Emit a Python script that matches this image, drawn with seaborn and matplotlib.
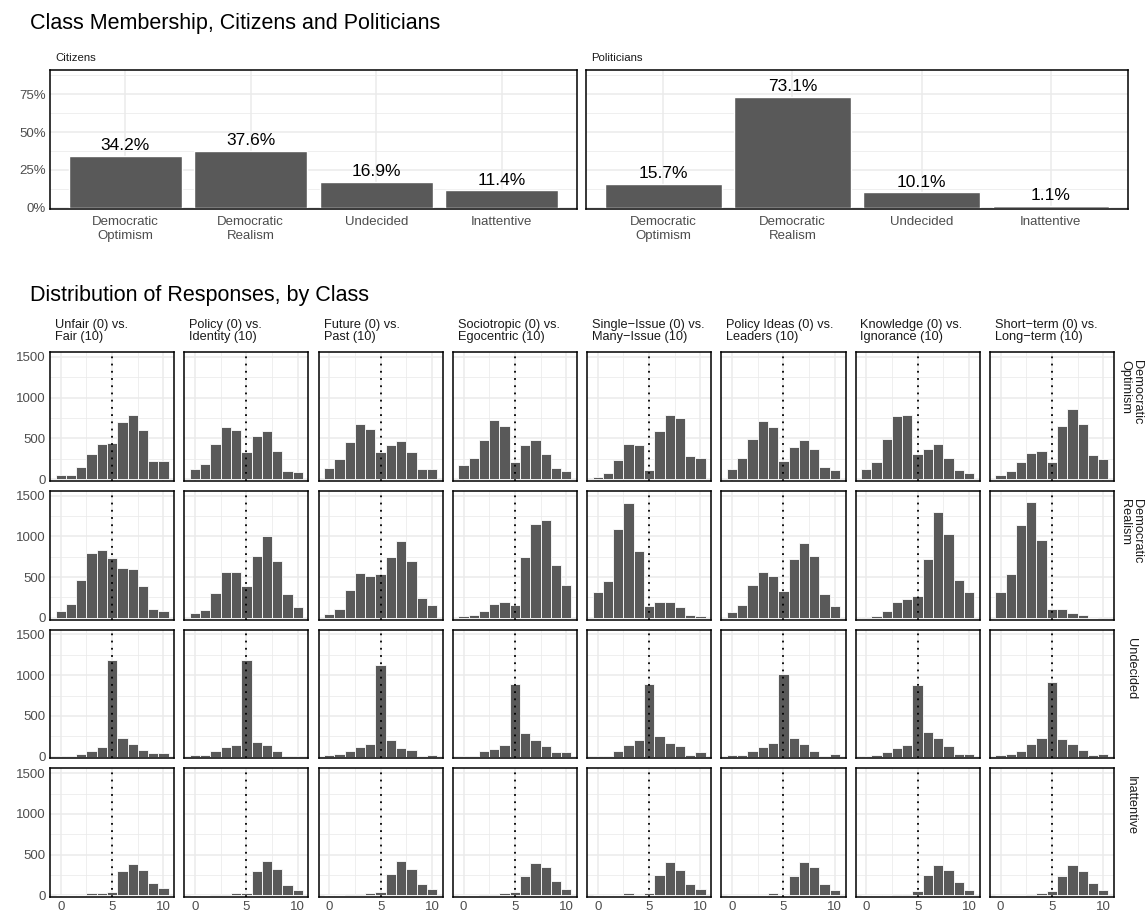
import matplotlib
matplotlib.use("Agg")
import matplotlib.pyplot as plt
import seaborn as sns
import pandas as pd
from matplotlib.ticker import FixedLocator, FuncFormatter

# ---------------------------------------------------------------- data
class_names = ["Democratic Optimism", "Democratic Realism", "Undecided", "Inattentive"]
class_ticklabels = ["Democratic\nOptimism", "Democratic\nRealism", "Undecided", "Inattentive"]
class_striplabels = ["Democratic\nOptimism", "Democratic\nRealism", "Undecided", "Inattentive"]

citizens_pct = [34.2, 37.6, 16.9, 11.4]
politicians_pct = [15.7, 73.1, 10.1, 1.1]

item_labels = [
    "Unfair (0) vs.\nFair (10)",
    "Policy (0) vs.\nIdentity (10)",
    "Future (0) vs.\nPast (10)",
    "Sociotropic (0) vs.\nEgocentric (10)",
    "Single\u2212Issue (0) vs.\nMany\u2212Issue (10)",
    "Policy Ideas (0) vs.\nLeaders (10)",
    "Knowledge (0) vs.\nIgnorance (10)",
    "Short\u2212term (0) vs.\nLong\u2212term (10)",
]
scale_points = list(range(11))

# response counts at scale points 0..10, one list per item
optimism_counts = [
    [50, 50, 154, 307, 425, 441, 697, 792, 603, 225, 225],
    [130, 189, 425, 638, 603, 331, 532, 591, 343, 98, 87],
    [142, 248, 461, 674, 615, 331, 414, 473, 331, 130, 130],
    [177, 260, 485, 721, 654, 213, 414, 485, 307, 142, 95],
    [24, 71, 236, 425, 414, 110, 595, 792, 745, 284, 264],
    [130, 260, 496, 709, 638, 217, 390, 485, 366, 154, 106],
    [130, 213, 496, 780, 788, 307, 366, 425, 260, 110, 71],
    [47, 95, 213, 319, 343, 213, 650, 863, 674, 296, 248],
]
realism_counts = [
    [85, 175, 460, 800, 835, 730, 615, 595, 395, 105, 85],
    [57, 94, 307, 558, 569, 396, 758, 1000, 696, 295, 131],
    [50, 105, 345, 550, 511, 535, 742, 938, 696, 246, 160],
    [20, 33, 90, 172, 197, 156, 742, 1158, 1204, 650, 406],
    [316, 451, 1096, 1404, 819, 143, 193, 193, 131, 37, 20],
    [70, 156, 405, 558, 519, 328, 719, 915, 765, 287, 143],
    [8, 20, 82, 193, 230, 271, 727, 1296, 1031, 469, 316],
    [316, 538, 1135, 1423, 950, 107, 107, 57, 33, 2, 8],
]
undecided_counts = [
    [12, 12, 28, 63, 122, 1190, 225, 158, 87, 39, 39],
    [24, 24, 63, 122, 146, 1190, 181, 138, 75, 12, 12],
    [24, 35, 63, 122, 158, 1120, 201, 106, 87, 12, 24],
    [12, 12, 63, 98, 146, 890, 288, 201, 134, 51, 51],
    [4, 12, 75, 146, 201, 890, 252, 165, 134, 24, 51],
    [24, 24, 75, 122, 165, 1020, 225, 158, 75, 12, 35],
    [12, 24, 51, 106, 146, 880, 307, 225, 134, 35, 35],
    [24, 35, 75, 158, 225, 920, 213, 158, 87, 24, 35],
]
inattentive_counts = [
    [8, 8, 8, 27, 27, 39, 296, 390, 308, 148, 86],
    [8, 8, 12, 12, 27, 27, 296, 417, 320, 133, 62],
    [8, 8, 12, 12, 27, 39, 261, 417, 320, 144, 74],
    [8, 8, 12, 12, 27, 39, 238, 402, 343, 179, 74],
    [4, 4, 8, 23, 8, 35, 254, 406, 312, 137, 78],
    [4, 4, 4, 8, 23, 8, 242, 406, 348, 137, 66],
    [4, 4, 4, 16, 16, 55, 254, 371, 312, 164, 66],
    [4, 4, 4, 16, 31, 55, 242, 371, 301, 148, 66],
]

# ---------------------------------------------------------------- styling
sns.set_theme(style="white")
plt.rcParams["font.family"] = ["Liberation Sans", "DejaVu Sans"]

BAR = "#595959"
GRID = "#EBEBEB"
TICK = "#4D4D4D"
STRIP = "#1A1A1A"

W, H = 1145, 915
fig = plt.figure(figsize=(W / 100, H / 100), dpi=100)


def px_axes(left, top, right, bottom):
    return fig.add_axes([left / W, 1 - bottom / H, (right - left) / W, (bottom - top) / H])


def fig_text(x, y, s, **kw):
    return fig.text(x / W, 1 - y / H, s, **kw)


def style_panel(ax):
    ax.set_facecolor("white")
    for sp in ax.spines.values():
        sp.set_visible(True)
        sp.set_color("black")
        sp.set_linewidth(1.1)
        sp.set_zorder(5)
    ax.grid(True, which="major", color=GRID, linewidth=1.1)
    ax.grid(True, which="minor", color=GRID, linewidth=0.55)
    ax.set_axisbelow(True)
    ax.tick_params(which="both", length=0, colors=TICK, labelsize=9.5, pad=3)
    ax.set_xlabel("")
    ax.set_ylabel("")


# ---------------------------------------------------------------- top: class membership
fig_text(30, 23, "Class Membership, Citizens and Politicians", fontsize=15.5,
         ha="left", va="center", color="black")

top_panels = [("Citizens", citizens_pct, 50, 577), ("Politicians", politicians_pct, 586, 1128)]
for i, (name, vals, left, right) in enumerate(top_panels):
    ax = px_axes(left, 70, right, 209)
    df = pd.DataFrame({"cls": class_ticklabels, "pct": vals})
    sns.barplot(data=df, x="cls", y="pct", color=BAR, saturation=1, width=0.9, ax=ax)
    style_panel(ax)
    ax.set_xlim(-0.6, 3.6)
    ax.set_ylim(-0.9, 91)
    ax.yaxis.set_major_locator(FixedLocator([0, 25, 50, 75]))
    ax.yaxis.set_minor_locator(FixedLocator([12.5, 37.5, 62.5, 87.5]))
    ax.yaxis.set_major_formatter(FuncFormatter(lambda v, p: f"{v:.0f}%"))
    ax.grid(False, axis="x", which="minor")
    ax.tick_params(axis="x", pad=5)
    for lab in ax.get_xticklabels():
        lab.set_linespacing(1.25)
    if i > 0:
        ax.tick_params(axis="y", labelleft=False)
    ax.bar_label(ax.containers[0], labels=[f"{v:.1f}%" for v in vals],
                 padding=2, fontsize=12.5, color="black")
    fig_text(left + 5, 58, name, fontsize=8.2, ha="left", va="center", color=STRIP)

# ---------------------------------------------------------------- bottom: response distributions
fig_text(30, 296, "Distribution of Responses, by Class", fontsize=15.5,
         ha="left", va="center", color="black")

rows = []
for cls, block in zip(class_names, [optimism_counts, realism_counts,
                                     undecided_counts, inattentive_counts]):
    for item, counts in zip(item_labels, block):
        for x, n in zip(scale_points, counts):
            rows.append({"cls": cls, "item": item, "response": x, "count": n})
responses = pd.DataFrame(rows)

col_w, col_gap = 124.25, 10.0
row_h, row_gap = 128.75, 10.0
grid_left, grid_top = 50.0, 352.0

for r, cls in enumerate(class_names):
    top = grid_top + r * (row_h + row_gap)
    for c, item in enumerate(item_labels):
        left = grid_left + c * (col_w + col_gap)
        ax = px_axes(left, top, left + col_w, top + row_h)
        sub = responses[(responses["cls"] == cls) & (responses["item"] == item)]
        sns.histplot(data=sub, x="response", weights="count", discrete=True,
                     color=BAR, alpha=1, edgecolor="white", linewidth=0.6, ax=ax)
        style_panel(ax)
        ax.axvline(5, color="black", linestyle=(0, (1, 3)), linewidth=1.3, zorder=3)
        ax.set_xlim(-1.05, 11.05)
        ax.set_ylim(-20, 1560)
        ax.xaxis.set_major_locator(FixedLocator([0, 5, 10]))
        ax.xaxis.set_minor_locator(FixedLocator([2.5, 7.5]))
        ax.yaxis.set_major_locator(FixedLocator([0, 500, 1000, 1500]))
        ax.yaxis.set_minor_locator(FixedLocator([250, 750, 1250]))
        ax.tick_params(labelbottom=(r == len(class_names) - 1), labelleft=(c == 0))
        if r == 0:
            fig_text(left + 5, top - 9, item, fontsize=9.2, ha="left", va="bottom",
                     color=STRIP, linespacing=1.0)
    fig_text(grid_left + 8 * col_w + 7 * col_gap + 17, top + 8, class_striplabels[r],
             fontsize=9.2, rotation=270, ha="center", va="top", multialignment="left",
             color=STRIP, linespacing=1.0)

fig.savefig("out.png", dpi=100)
